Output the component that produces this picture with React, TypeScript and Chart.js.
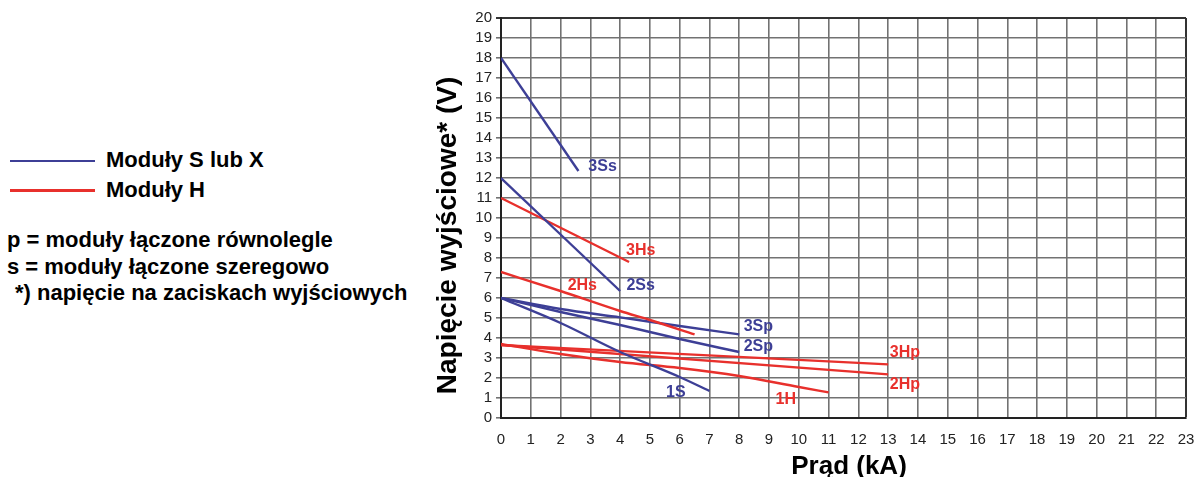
import React, { useEffect, useRef } from "react";
import { Chart, registerables } from "chart.js";

Chart.register(...registerables);

const FONT = '"Liberation Sans", Arial, Helvetica, sans-serif';
const BLUE = "#3d3f96";
const RED = "#e8302c";

// ---- data (x in kA, y in V) ----
const x3Ss = [0, 2.6];
const y3Ss = [18, 12.35];
const x2Ss = [0, 4];
const y2Ss = [12, 6.35];
const x3Hs = [0, 4.3];
const y3Hs = [11, 7.8];
const x2Hs = [0, 2, 4, 5, 6.5];
const y2Hs = [7.3, 6.35, 5.35, 4.9, 4.18];
const x3Sp = [0, 2, 4, 6, 8];
const y3Sp = [6, 5.45, 5.03, 4.6, 4.18];
const x2Sp = [0, 2, 4, 6, 8];
const y2Sp = [6, 5.3, 4.65, 3.95, 3.3];
const x1S = [0, 2, 4, 6, 7];
const y1S = [6, 4.75, 3.3, 2.05, 1.35];
const x3Hp = [0, 13];
const y3Hp = [3.65, 2.68];
const x2Hp = [0, 13];
const y2Hp = [3.65, 2.18];
const x1H = [0, 2, 4, 6, 8, 10, 11];
const y1H = [3.7, 3.2, 2.8, 2.5, 2.1, 1.55, 1.28];

const seriesNames = ["3Ss", "2Ss", "3Hs", "2Hs", "3Sp", "2Sp", "1S", "3Hp", "2Hp", "1H"];
const seriesX = [x3Ss, x2Ss, x3Hs, x2Hs, x3Sp, x2Sp, x1S, x3Hp, x2Hp, x1H];
const seriesY = [y3Ss, y2Ss, y3Hs, y2Hs, y3Sp, y2Sp, y1S, y3Hp, y2Hp, y1H];
const seriesIsH = [false, false, true, true, false, false, false, true, true, true];
// label anchor points (data units)
const labelX = [3.41, 4.69, 4.69, 2.73, 8.64, 8.64, 5.87, 13.56, 13.56, 9.56];
const labelY = [12.57, 6.61, 8.37, 6.63, 4.58, 3.58, 1.25, 3.25, 1.66, 0.91];

const xTitle = "Prąd (kA)";
const yTitle = "Napięcie wyjściowe* (V)";
const legendS = "Moduły S lub X";
const legendH = "Moduły H";
const notes = [
  "p = moduły łączone równolegle",
  "s = moduły łączone szeregowo",
  "*) napięcie na zaciskach wyjściowych",
];

const GRID = "#727272";
const EDGE = "#333";

const labelsPlugin = {
  id: "seriesLabels",
  afterDatasetsDraw(chart: any) {
    const { ctx, scales } = chart;
    ctx.save();
    ctx.font = `bold 16px ${FONT}`;
    ctx.textAlign = "center";
    ctx.textBaseline = "middle";
    seriesNames.forEach((n, i) => {
      ctx.fillStyle = seriesIsH[i] ? RED : BLUE;
      ctx.fillText(n, scales.x.getPixelForValue(labelX[i]), scales.y.getPixelForValue(labelY[i]));
    });
    // axis titles
    ctx.fillStyle = "#000";
    ctx.font = `bold 26px ${FONT}`;
    ctx.textBaseline = "alphabetic";
    ctx.fillText(xTitle, 429, 473.5);
    ctx.save();
    ctx.translate(36, 235.5);
    ctx.rotate(-Math.PI / 2);
    ctx.font = `bold 28px ${FONT}`;
    ctx.fillText(yTitle, 0, 0);
    ctx.restore();
    ctx.restore();
  },
};

function ChartBox() {
  const ref = useRef<HTMLCanvasElement>(null);
  useEffect(() => {
    if (!ref.current) return;
    const datasets = seriesNames.map((n, i) => ({
      label: n,
      data: seriesX[i].map((x, k) => ({ x, y: seriesY[i][k] })),
      borderColor: seriesIsH[i] ? RED : BLUE,
      backgroundColor: seriesIsH[i] ? RED : BLUE,
      borderWidth: 2.4,
      pointRadius: 0,
      fill: false,
      cubicInterpolationMode: "monotone" as const,
    }));
    const chart = new Chart(ref.current, {
      type: "line",
      data: { datasets },
      plugins: [labelsPlugin],
      options: {
        animation: false,
        responsive: false,
        layout: { padding: { top: 18, right: 13, left: 0, bottom: 0 } },
        plugins: { legend: { display: false }, tooltip: { enabled: false } },
        scales: {
          x: {
            type: "linear",
            min: 0,
            max: 23,
            afterFit: (s: any) => {
              s.height = 59;
            },
            ticks: {
              stepSize: 1,
              autoSkip: false,
              color: "#222",
              font: { family: FONT, size: 15 },
              padding: 3,
              maxRotation: 0,
            },
            grid: {
              color: (c: any) => (c.tick && c.tick.value === 23 ? EDGE : GRID),
              lineWidth: (c: any) => (c.tick && c.tick.value === 23 ? 2 : 1.6),
              drawTicks: true,
              tickLength: 10,
              tickColor: "rgba(0,0,0,0)",
            },
            border: { display: true, color: "#222", width: 2 },
          },
          y: {
            type: "linear",
            min: 0,
            max: 20,
            afterFit: (s: any) => {
              s.width = 81;
            },
            ticks: { stepSize: 1, autoSkip: false, color: "#222", font: { family: FONT, size: 15 }, padding: 4 },
            grid: {
              color: (c: any) => (c.tick && c.tick.value === 20 ? EDGE : GRID),
              lineWidth: (c: any) => (c.tick && c.tick.value === 20 ? 2 : 1.6),
              tickLength: 5,
            },
            border: { display: true, color: "#222", width: 2 },
          },
        },
      },
    });
    return () => chart.destroy();
  }, []);
  return (
    <canvas
      ref={ref}
      width={779}
      height={477}
      style={{ position: "absolute", left: 420, top: 0, width: 779, height: 477, display: "block" }}
    />
  );
}

export default function App() {
  const textStyle: React.CSSProperties = {
    position: "absolute",
    fontFamily: FONT,
    fontWeight: "bold",
    fontSize: 22,
    lineHeight: "26px",
    whiteSpace: "nowrap",
    color: "#000",
  };
  return (
    <div style={{ position: "fixed", left: 0, top: 0, width: 1199, height: 477, background: "#fff", overflow: "hidden" }}>
      <div style={{ position: "absolute", left: 10, top: 159.5, width: 85, height: 2.5, background: BLUE }} />
      <div style={{ position: "absolute", left: 10, top: 189, width: 85, height: 2.5, background: RED }} />
      <div style={{ ...textStyle, left: 106, top: 147 }}>{legendS}</div>
      <div style={{ ...textStyle, left: 106, top: 177 }}>{legendH}</div>
      <div style={{ ...textStyle, left: 7, top: 227 }}>{notes[0]}</div>
      <div style={{ ...textStyle, left: 7, top: 254 }}>{notes[1]}</div>
      <div style={{ ...textStyle, left: 15, top: 280 }}>{notes[2]}</div>
      <ChartBox />
    </div>
  );
}
